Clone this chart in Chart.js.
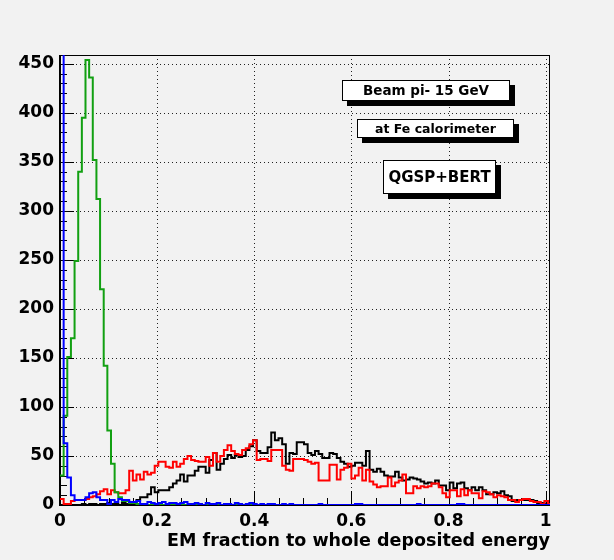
<!DOCTYPE html>
<html><head><meta charset="utf-8">
<script src="https://cdn.jsdelivr.net/npm/chart.js@4"></script>
<style>html,body{margin:0;padding:0;background:#fff}canvas{display:block}</style>
</head><body>
<canvas id="c" width="614" height="560"></canvas>
<script>
const xTitle = "EM fraction to whole deposited energy";
const boxTexts = ["Beam pi- 15 GeV", "at Fe calorimeter", "QGSP+BERT"];
const binWidth = 0.0075;
const xTickLabels = ["0", "0.2", "0.4", "0.6", "0.8", "1"];
const yTickLabels = ["0", "50", "100", "150", "200", "250", "300", "350", "400", "450"];

const black = [
  0,0,0,0,0,0,1,0,1,1,
  0,1,1,2,1,1,0,2,1,2,
  3,5,8,8,11,18,13,15,15,15,
  18,22,25,31,24,30,30,35,39,39,
  33,46,53,36,42,47,51,48,51,49,
  50,56,60,66,55,53,53,59,74,66,
  68,62,42,53,52,64,64,62,53,51,
  55,52,48,48,53,52,48,44,42,39,
  40,43,43,40,55,36,34,37,34,30,
  29,29,34,28,25,26,28,27,26,24,
  22,23,22,25,20,20,15,23,17,22,
  23,17,15,18,15,18,15,11,11,13,
  12,14,10,9,4,5,5,5,5,5,
  4,2,2,1,0
];
const red = [
  6,1,1,4,5,5,5,6,8,9,
  11,14,16,11,15,13,12,12,15,35,
  25,31,26,34,31,33,40,44,44,39,
  38,44,39,42,47,50,46,45,44,44,
  49,40,53,44,50,56,61,55,52,51,
  56,58,62,66,46,47,47,45,56,56,
  56,40,36,35,47,47,47,46,44,42,
  43,25,25,25,41,41,26,36,38,42,
  27,30,38,25,36,24,21,18,19,19,
  28,19,23,25,31,12,12,19,17,19,
  18,19,22,22,18,12,8,15,15,9,
  16,10,15,12,12,7,14,13,11,8,
  10,9,8,5,5,3,5,6,6,4,
  3,3,1,4,1
];
const green = [
  30,91,151,170,249,340,395,454,436,352,
  312,220,142,76,42,13,8,4,4,2,
  2,1,0,0,0,0,0,0,0,0,
  0,0,0,0,0,0,0,0,0,0,
  0,0,0,0,0,0,0,0,0,0,
  0,0,0,0,0,0,0,0,0,0,
  0,0,0,0,0,0,0,0,0,0,
  0,0,0,0,0,0,0,0,0,0,
  0,0,0,0,0,0,0,0,0,0,
  0,0,0,0,0,0,0,0,0,0,
  0,0,0,0,0,0,0,0,0,0,
  0,0,0,0,0,0,0,0,0,0,
  0,0,0,0,0,0,0,0,0,0,
  0,0,0,0,0
];
const blue = [
  1200,63,28,10,5,5,5,8,12,13,
  8,5,5,1,5,3,6,5,5,3,
  3,4,1,1,3,2,1,2,3,1,
  2,2,1,2,3,1,1,2,1,0,
  2,1,1,2,0,1,1,0,2,1,
  0,1,2,1,0,1,0,1,1,0,
  0,1,0,1,0,0,0,0,0,0,
  0,1,0,0,0,0,0,0,0,0,
  0,1,1,0,0,0,0,0,0,0,
  0,0,0,0,0,0,0,0,1,0,
  0,0,0,0,0,0,0,0,0,1,
  1,0,0,0,0,0,0,0,0,0,
  0,0,0,0,0,0,0,0,0,0,
  0,0,0,0,0
];

function toSteps(vals) {
  const pts = vals.map((v, i) => ({x: i * binWidth, y: v}));
  pts.push({x: vals.length * binWidth, y: vals[vals.length - 1]});
  return pts;
}

const FONT = "'DejaVu Sans', 'Liberation Sans', Arial, sans-serif";

const rootFrame = {
  id: 'rootFrame',
  beforeDraw(chart) {
    const ctx = chart.ctx;
    ctx.save();
    ctx.fillStyle = '#f2f2f2';
    ctx.fillRect(0, 0, chart.width, chart.height);
    ctx.restore();
  },
  beforeDatasetsDraw(chart) {
    const {ctx, chartArea: a, scales: {x, y}} = chart;
    ctx.save();
    ctx.strokeStyle = '#222';
    ctx.lineWidth = 1;
    ctx.setLineDash([1, 3]);
    for (let v = 50; v <= 450; v += 50) {
      const py = Math.round(y.getPixelForValue(v)) + 0.5;
      ctx.beginPath(); ctx.moveTo(a.left, py); ctx.lineTo(a.right, py); ctx.stroke();
    }
    for (let k = 1; k <= 5; k++) {
      const px = Math.round(x.getPixelForValue(k * 0.2)) + 0.5;
      ctx.beginPath(); ctx.moveTo(px, a.top); ctx.lineTo(px, a.bottom); ctx.stroke();
    }
    ctx.setLineDash([]);
    ctx.strokeStyle = '#000';
    ctx.lineWidth = 1;
    ctx.strokeRect(a.left + 0.5, a.top + 0.5, a.right - a.left - 1, a.bottom - a.top - 1);
    ctx.lineWidth = 2;
    ctx.beginPath(); ctx.moveTo(a.left, a.top); ctx.lineTo(a.left, a.bottom); ctx.lineTo(a.right, a.bottom); ctx.stroke();
    ctx.lineWidth = 1;
    for (let v = 0; v <= 450; v += 10) {
      const py = Math.round(y.getPixelForValue(v)) + 0.5;
      const len = (v % 50 === 0) ? 14 : 7;
      ctx.beginPath(); ctx.moveTo(a.left, py); ctx.lineTo(a.left + len, py); ctx.stroke();
    }
    for (let k = 0; k <= 20; k++) {
      const px = Math.round(x.getPixelForValue(k * 0.05)) + 0.5;
      const len = (k % 4 === 0) ? 14 : 7;
      ctx.beginPath(); ctx.moveTo(px, a.bottom); ctx.lineTo(px, a.bottom - len); ctx.stroke();
    }
    ctx.restore();
  },
  afterDraw(chart) {
    const ctx = chart.ctx;
    const W = chart.width, H = chart.height;
    const boxes = [
      {t: boxTexts[0], x0: 0.5565, y0: 0.1430, x1: 0.8306, y1: 0.1800, size: 13.5},
      {t: boxTexts[1], x0: 0.5809, y0: 0.2125, x1: 0.8360, y1: 0.2470, size: 12.5},
      {t: boxTexts[2], x0: 0.6243, y0: 0.2857, x1: 0.8090, y1: 0.3464, size: 15}
    ];
    ctx.save();
    for (const b of boxes) {
      const x0 = Math.round(b.x0 * W), y0 = Math.round(b.y0 * H);
      const w = Math.round((b.x1 - b.x0) * W), h = Math.round((b.y1 - b.y0) * H);
      ctx.fillStyle = '#000';
      ctx.fillRect(x0 + 5, y0 + 5, w, h);
      ctx.fillStyle = '#fff';
      ctx.fillRect(x0, y0, w, h);
      ctx.strokeStyle = '#000';
      ctx.lineWidth = 1;
      ctx.strokeRect(x0 + 0.5, y0 + 0.5, w - 1, h - 1);
      ctx.fillStyle = '#000';
      ctx.font = 'bold ' + b.size + 'px ' + FONT;
      ctx.textAlign = 'center';
      ctx.textBaseline = 'middle';
      ctx.fillText(b.t, x0 + w / 2, y0 + h / 2 + 1);
    }
    ctx.restore();
  }
};

const ds = (label, vals, color, order) => ({
  label, data: toSteps(vals), borderColor: color, borderWidth: 2,
  stepped: true, pointRadius: 0, fill: false, order
});

new Chart(document.getElementById('c'), {
  type: 'line',
  data: {
    datasets: [
      ds('blue', blue, '#0000ff', 1),
      ds('green', green, '#12a012', 2),
      ds('red', red, '#ff0000', 3),
      ds('black', black, '#000000', 4)
    ]
  },
  options: {
    responsive: false,
    devicePixelRatio: 1,
    animation: false,
    layout: {padding: {left: 0, top: 55, right: 64, bottom: 0}},
    plugins: {legend: {display: false}, tooltip: {enabled: false}},
    scales: {
      x: {
        type: 'linear', min: 0, max: 1.009,
        grid: {display: false, drawTicks: false}, border: {display: false},
        ticks: {
          stepSize: 0.2, includeBounds: false, padding: 6, maxRotation: 0,
          color: '#000', font: {family: FONT, size: 17, weight: 'bold'},
          callback: (v, i) => xTickLabels[i]
        },
        title: {
          display: true, text: xTitle, align: 'end', color: '#000',
          font: {family: FONT, size: 17.5, weight: 'bold'},
          padding: {top: 0, bottom: 8}
        },
        afterFit: s => { s.height = 55; }
      },
      y: {
        type: 'linear', min: 0, max: 459,
        grid: {display: false, drawTicks: false}, border: {display: false},
        ticks: {
          stepSize: 50, includeBounds: false, padding: 6,
          color: '#000', font: {family: FONT, size: 17, weight: 'bold'},
          callback: (v, i) => yTickLabels[i]
        },
        afterFit: s => { s.width = 60; }
      }
    }
  },
  plugins: [rootFrame]
});
</script>
</body></html>
